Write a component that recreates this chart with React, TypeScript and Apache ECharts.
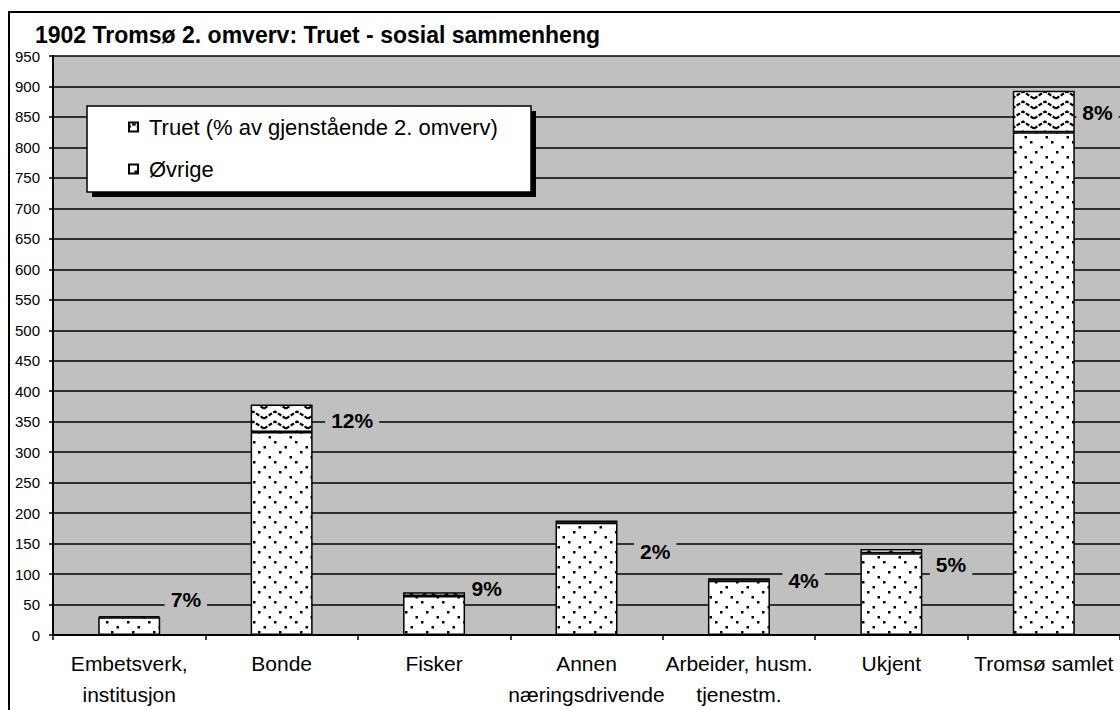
import React, { useEffect, useRef } from "react";
import * as echarts from "echarts";

const categories = [
  "Embetsverk,\ninstitusjon",
  "Bonde",
  "Fisker",
  "Annen\nnæringsdrivende",
  "Arbeider, husm.\ntjenestm.",
  "Ukjent",
  "Tromsø samlet",
];
const ovrige = [29, 333, 64, 184, 89, 134, 825];
const truet = [2, 45, 6, 4, 4, 7, 68];
const pctLabels = [7, 12, 9, 2, 4, 5, 8];
// value-axis height at which each percentage label sits
const labelY = [59, 352, 77, 137, 90, 116, 857];
// small horizontal nudge (px) of each label from the bar edge
const labelNudge = [10, 18, 6, 22, 18, 13, 7];
const yMin = 0;
const yMax = 950;
const yStep = 50;

const SERIES_TRUET = "Truet (% av gjenstående 2. omverv)";
const SERIES_OVRIGE = "Øvrige";
const FONT = "'Liberation Sans', Arial, sans-serif";

const svgUrl = (s: string) => "data:image/svg+xml;charset=utf-8," + encodeURIComponent(s);

const dotTile = svgUrl(
  "<svg xmlns='http://www.w3.org/2000/svg' width='21' height='20'>" +
    "<rect width='21' height='20' fill='white'/>" +
    "<rect x='1' y='1' width='2.5' height='2.5' fill='black'/>" +
    "<rect x='11.5' y='6' width='2.5' height='2.5' fill='black'/>" +
    "<rect x='6' y='11' width='2.5' height='2.5' fill='black'/>" +
    "<rect x='16.5' y='16' width='2.5' height='2.5' fill='black'/>" +
    "</svg>"
);
const zigTile = svgUrl(
  "<svg xmlns='http://www.w3.org/2000/svg' width='22' height='10'>" +
    "<rect width='22' height='10' fill='white'/>" +
    "<polyline points='0,8.5 11,1.5 22,8.5' fill='none' stroke='black' stroke-width='2.2' stroke-dasharray='4,1.5'/>" +
    "</svg>"
);

export default function App() {
  const ref = useRef<HTMLDivElement>(null);
  useEffect(() => {
    if (!ref.current) return;
    const chart = echarts.init(ref.current, null, { renderer: "svg" });
    const dotPattern: any = { image: dotTile, repeat: "repeat", imageWidth: 21, imageHeight: 20 };
    const zigPattern: any = { image: zigTile, repeat: "repeat", imageWidth: 22, imageHeight: 10 };

    chart.setOption({
      animation: false,
      backgroundColor: "#ffffff",
      textStyle: { fontFamily: FONT, color: "#000" },
      title: {
        text: "1902 Tromsø 2. omverv: Truet - sosial sammenheng",
        left: 35,
        top: 23,
        padding: 0,
        textStyle: { fontFamily: FONT, fontSize: 23, fontWeight: "bold", color: "#000" },
      },
      graphic: [
        {
          type: "rect",
          z: 100,
          shape: { x: 9, y: 12, width: 1200, height: 800 },
          style: { fill: "none", stroke: "#000", lineWidth: 2 },
          silent: true,
        },
        {
          type: "rect",
          z: 50,
          shape: { x: 92, y: 111, width: 444, height: 86 },
          style: { fill: "#000" },
          silent: true,
        },
        {
          type: "rect",
          z: 51,
          shape: { x: 87, y: 106, width: 444, height: 86 },
          style: { fill: "#fff", stroke: "#000", lineWidth: 1.5 },
          silent: true,
        },
      ],
      legend: {
        z: 60,
        orient: "vertical",
        left: 128,
        top: 116,
        padding: 0,
        itemGap: 20,
        itemWidth: 21,
        itemHeight: 9,
        icon: "path://M0,0L10,0L10,10L0,10Z",
        data: [SERIES_TRUET, SERIES_OVRIGE],
        textStyle: { fontFamily: FONT, fontSize: 22, color: "#000", lineHeight: 22 },
        selectedMode: false,
      },
      grid: {
        left: 53,
        top: 56,
        width: 1072,
        height: 581,
        show: true,
        backgroundColor: "#c0c0c0",
        borderWidth: 0,
        containLabel: false,
      },
      xAxis: {
        type: "category",
        data: categories,
        axisLine: { lineStyle: { color: "#000", width: 2 } },
        axisTick: { show: true, length: 5, lineStyle: { color: "#000", width: 1.5 } },
        axisLabel: {
          interval: 0,
          margin: 13,
          fontFamily: FONT,
          fontSize: 21,
          lineHeight: 31,
          color: "#000",
          verticalAlign: "top",
        },
        splitLine: { show: false },
      },
      yAxis: {
        type: "value",
        min: yMin,
        max: yMax,
        interval: yStep,
        axisLine: { show: true, lineStyle: { color: "#000", width: 2 } },
        axisTick: { show: true, length: 4, lineStyle: { color: "#000", width: 1.5 } },
        axisLabel: { margin: 13, fontFamily: FONT, fontSize: 15, color: "#000" },
        splitLine: { show: true, lineStyle: { color: "#000", width: 1.5 } },
      },
      series: [
        {
          name: SERIES_OVRIGE,
          type: "bar",
          stack: "total",
          barWidth: 62,
          data: ovrige,
          itemStyle: { color: dotPattern, borderColor: "#000", borderWidth: 1.5 },
        },
        {
          name: SERIES_TRUET,
          type: "bar",
          stack: "total",
          barWidth: 62,
          data: truet,
          itemStyle: { color: zigPattern, borderColor: "#000", borderWidth: 1.5 },
        },
        {
          name: "labels",
          type: "scatter",
          symbolSize: 1,
          z: 5,
          itemStyle: { color: "rgba(0,0,0,0)", opacity: 1 },
          silent: true,
          data: labelY.map((y, i) => ({
            value: [i, y],
            label: { distance: 31 + labelNudge[i] - 6 },
          })),
          label: {
            show: true,
            position: "right",
            formatter: (p: any) => pctLabels[p.dataIndex] + "%",
            fontFamily: FONT,
            fontSize: 21,
            fontWeight: "bold",
            color: "#000",
            opacity: 1,
            backgroundColor: "#c0c0c0",
            padding: [2, 6],
          },
        },
      ],
    });
    return () => chart.dispose();
  }, []);
  return (
    <div
      ref={ref}
      style={{ position: "fixed", left: 0, top: 0, width: 1120, height: 710 }}
    />
  );
}
